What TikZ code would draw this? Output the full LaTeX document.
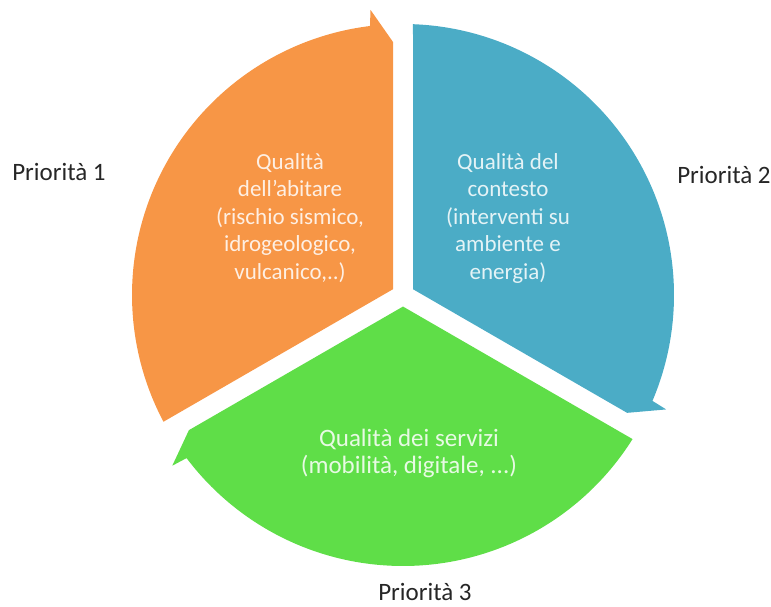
\documentclass[tikz,border=0pt]{standalone}
\usepackage{fontspec}
\setmainfont{Carlito}
\usetikzlibrary{calc}
\definecolor{orangeF}{HTML}{F79646}
\definecolor{blueF}{HTML}{4BACC6}
\definecolor{greenF}{HTML}{5FDE48}
\definecolor{labtext}{HTML}{262626}
\newcommand\drawSeg[2]{%
  \fill[#2]
    ($(C)+({#1+60}:11.55)$) --
    ($(C)+({#1+117.885}:271)$)
    arc[start angle={#1+117.885}, end angle={#1+7}, radius=271] --
    ($(C)+({#1+6.5}:287)$) --
    ($(C)+({#1}:253)+({#1+90}:10)$) -- cycle;}
\begin{document}
\begin{tikzpicture}[x=1pt,y=1pt,
  sectext/.style={align=center, inner sep=0pt, font=\fontsize{23}{27.5}\selectfont},
  prio/.style={inner sep=0pt, text=labtext, font=\fontsize{25}{30}\selectfont}]
\useasboundingbox (0,0) rectangle (771,606);
\coordinate (C) at (403,311);
\drawSeg{90}{orangeF}
\drawSeg{-30}{blueF}
\drawSeg{210}{greenF}
\node[sectext, text=white!85!orangeF] (t1) at (290,388)
  {Qualità\\dell’abitare\\(rischio sismico,\\idrogeologico,\\vulcanico,..)};
\node[sectext, text=white!85!blueF] (t2) at (508,388)
  {Qualità del\\contesto\\(interventi su\\ambiente e\\energia)};
\node[sectext, text=white!85!greenF, font=\fontsize{25}{27}\selectfont] (t3) at (409,153)
  {Qualità dei servizi\\(mobilità, digitale, ...)};
\node[prio] (p1) at (59,434) {Priorità 1};
\node[prio] (p2) at (724,431) {Priorità 2};
\node[prio] (p3) at (425,14) {Priorità 3};
\end{tikzpicture}
\end{document}
